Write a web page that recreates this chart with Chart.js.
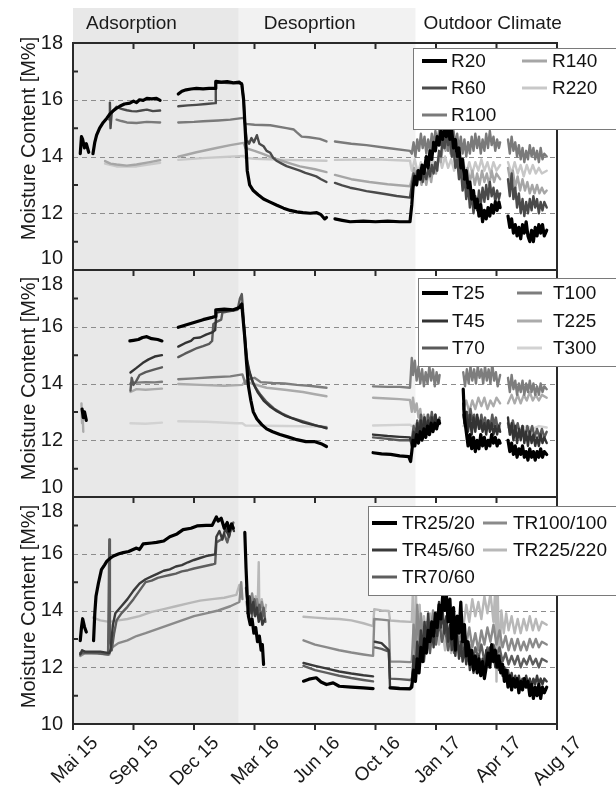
<!DOCTYPE html>
<html>
<head>
<meta charset="utf-8">
<script src="https://cdn.jsdelivr.net/npm/chart.js@4"></script>
<style>
  body { margin: 0; background: #fff; }
  #wrap { width: 616px; height: 796px; }
</style>
</head>
<body>
<div id="wrap"><canvas id="moistureChart" width="616" height="796"></canvas></div>
<script>
// x is measured in tick units: 0 = "Mai 15", 8 = "Aug 17"
const xLabels = ['Mai 15', 'Sep 15', 'Dec 15', 'Mar 16', 'Jun 16', 'Oct 16', 'Jan 17', 'Apr 17', 'Aug 17'];
const phaseNames = ['Adsorption', 'Desoprtion', 'Outdoor Climate'];
const phaseBounds = [0, 2.74, 5.66, 8];
const gridValues = [12, 14, 16];
const yTicks = [10, 12, 14, 16, 18];
const yTitle = 'Moisture Content [M%]';

// panel 1: R series
const R20 = [[0.12,14.1],[0.14,14.7],[0.16,14.6],[0.19,14.3],[0.22,14.45],[0.26,14.15],[0.28,null],
  [0.33,14.1],[0.36,14.5],[0.39,14.75],[0.44,15.0],[0.5,15.2],[0.56,15.35],[0.61,15.5],[0.66,15.6],[0.72,15.7],[0.78,15.78],[0.85,15.85],[0.94,15.88],[1.0,15.95],[1.05,15.9],[1.1,16.0],[1.16,15.98],[1.22,16.05],[1.3,16.03],[1.38,16.05],[1.44,15.98],[1.5,null],
  [1.74,16.2],[1.8,16.3],[1.87,16.35],[1.95,16.38],[2.04,16.4],[2.15,16.38],[2.25,16.4],[2.35,16.4],[2.36,16.65],[2.45,16.62],[2.55,16.64],[2.65,16.6],[2.75,16.62],[2.79,16.55],[2.82,16.0],[2.85,14.8],[2.88,13.5],[2.92,13.0],[2.98,12.8],[3.06,12.65],[3.15,12.5],[3.25,12.4],[3.37,12.28],[3.48,12.18],[3.59,12.1],[3.7,12.05],[3.8,12.02],[3.92,12.0],[4.03,12.02],[4.1,11.95],[4.16,11.8],[4.19,11.85],[4.25,null],
  [4.33,11.8],[4.45,11.75],[4.58,11.7],[4.8,11.72],[5.0,11.7],[5.2,11.72],[5.4,11.7],[5.57,11.7],[5.6,12.3],[5.62,12.9],
  [5.65,13.3],[5.68,13.0],[5.71,13.5],[5.74,13.2],[5.77,13.7],[5.8,13.4],[5.84,14.0],[5.87,13.6],[5.9,14.2],[5.93,13.9],[5.96,14.5],[5.99,14.2],[6.02,14.7],[6.05,14.4],[6.08,14.9],[6.11,14.6],[6.14,15.0],[6.17,14.7],[6.2,15.1],[6.23,14.6],[6.26,14.9],[6.29,14.3],[6.32,14.6],[6.35,14.0],[6.38,14.3],[6.41,13.6],[6.44,13.9],[6.47,13.2],[6.5,13.5],[6.53,12.9],[6.56,13.1],[6.59,12.5],[6.62,12.8],[6.65,12.2],[6.68,12.5],[6.71,11.9],[6.74,12.3],[6.77,11.7],[6.8,12.1],[6.83,11.8],[6.86,12.2],[6.89,11.9],[6.92,12.3],[6.95,12.0],[6.98,12.4],[7.01,12.1],[7.04,12.4],[7.06,12.2],[7.12,null],
  [7.19,11.9],[7.22,11.5],[7.25,11.8],[7.28,11.3],[7.31,11.6],[7.34,11.2],[7.37,11.5],[7.4,11.1],[7.43,11.6],[7.46,11.3],[7.49,11.7],[7.52,11.2],[7.55,11.0],[7.58,11.4],[7.61,11.0],[7.64,11.5],[7.67,11.2],[7.7,11.6],[7.73,11.3],[7.76,11.6],[7.79,11.2],[7.83,11.4]];
const R60 = [[0.6,15.3],[0.61,15.9],[0.62,15.0],[0.64,15.55],[0.72,15.75],[0.8,15.68],[0.89,15.63],[0.97,15.6],[1.05,15.59],[1.13,15.62],[1.22,15.65],[1.32,15.6],[1.44,15.62],[1.5,null],
  [1.74,15.77],[1.9,15.8],[2.04,15.82],[2.2,15.85],[2.35,15.88],[2.36,16.6],[2.5,16.6],[2.65,16.58],[2.79,16.58],[2.82,16.0],[2.84,15.2],[2.87,14.6],[2.91,14.45],[2.95,14.65],[2.99,14.5],[3.04,14.75],[3.08,14.45],[3.15,14.36],[3.2,14.2],[3.26,14.13],[3.31,13.95],[3.37,13.84],[3.45,13.75],[3.53,13.66],[3.64,13.58],[3.75,13.5],[3.84,13.42],[3.92,13.37],[4.02,13.3],[4.1,13.2],[4.19,13.1],[4.25,null],
  [4.33,13.07],[4.45,12.98],[4.58,12.9],[4.72,12.84],[4.85,12.78],[5.0,12.73],[5.18,12.67],[5.35,12.61],[5.57,12.55],[5.6,13.0],
  [5.63,13.4],[5.66,13.1],[5.69,13.5],[5.72,13.2],[5.75,13.6],[5.78,13.1],[5.81,13.5],[5.84,13.2],[5.87,13.6],[5.9,13.3],[5.93,13.7],[5.96,13.4],[5.99,13.8],[6.02,13.5],[6.05,14.2],[6.08,14.0],[6.11,14.6],[6.14,14.3],[6.17,14.8],[6.2,14.4],[6.23,14.7],[6.26,14.0],[6.29,14.3],[6.32,13.6],[6.35,13.9],[6.38,13.2],[6.41,13.6],[6.44,12.8],[6.47,13.3],[6.5,12.5],[6.53,13.0],[6.56,12.2],[6.59,12.7],[6.62,12.0],[6.65,12.6],[6.68,12.1],[6.71,12.8],[6.74,12.3],[6.77,12.9],[6.8,12.4],[6.83,13.0],[6.86,12.5],[6.89,13.1],[6.92,12.6],[6.95,12.9],[6.98,12.4],[7.01,12.8],[7.04,12.5],[7.06,12.7],[7.12,null],
  [7.19,13.2],[7.22,12.6],[7.25,13.4],[7.28,12.5],[7.31,12.9],[7.34,12.2],[7.37,12.7],[7.4,12.0],[7.43,12.5],[7.46,11.9],[7.49,12.4],[7.52,12.0],[7.55,12.5],[7.58,12.1],[7.61,12.6],[7.64,12.2],[7.67,12.5],[7.7,12.0],[7.73,12.4],[7.76,12.1],[7.79,12.4],[7.83,12.2]];
const R100 = [[0.72,15.3],[0.8,15.25],[0.89,15.2],[1.05,15.18],[1.22,15.22],[1.44,15.2],[1.5,null],
  [1.74,15.2],[2.0,15.22],[2.15,15.24],[2.4,15.27],[2.6,15.3],[2.82,15.36],[2.85,15.15],[3.0,15.12],[3.26,15.1],[3.53,15.0],[3.65,14.95],[3.7,14.85],[3.78,14.7],[3.9,14.68],[4.08,14.62],[4.19,14.53],[4.25,null],
  [4.33,14.53],[4.6,14.45],[4.85,14.4],[5.2,14.3],[5.57,14.2],
  [5.6,14.1],[5.63,14.5],[5.66,14.0],[5.69,14.6],[5.72,14.2],[5.75,14.8],[5.78,14.3],[5.81,14.7],[5.84,14.1],[5.87,14.6],[5.9,14.2],[5.93,14.8],[5.96,14.4],[5.99,14.9],[6.02,14.5],[6.05,14.9],[6.08,14.4],[6.11,14.8],[6.14,14.3],[6.17,14.7],[6.2,14.2],[6.23,14.8],[6.26,14.3],[6.29,14.9],[6.32,14.4],[6.35,14.8],[6.38,14.2],[6.41,14.7],[6.44,14.1],[6.47,14.6],[6.5,14.0],[6.53,14.5],[6.56,14.1],[6.59,14.7],[6.62,14.2],[6.65,14.8],[6.68,14.3],[6.71,14.7],[6.74,14.1],[6.77,14.6],[6.8,14.2],[6.83,14.8],[6.86,14.3],[6.89,14.9],[6.92,14.4],[6.95,14.7],[6.98,14.2],[7.01,14.6],[7.04,14.3],[7.06,14.5],[7.12,null],
  [7.19,14.6],[7.22,14.1],[7.25,14.7],[7.28,14.2],[7.31,14.5],[7.34,14.0],[7.37,14.4],[7.4,13.9],[7.43,14.3],[7.46,13.8],[7.49,14.2],[7.52,13.9],[7.55,14.4],[7.58,14.0],[7.61,14.3],[7.64,13.9],[7.67,14.2],[7.7,13.8],[7.73,14.3],[7.76,13.9],[7.79,14.1],[7.83,14.0]];
const R140 = [[0.53,13.84],[0.62,13.75],[0.72,13.72],[0.89,13.68],[1.05,13.72],[1.27,13.8],[1.44,13.87],[1.5,null],
  [1.74,13.99],[2.04,14.15],[2.37,14.3],[2.6,14.4],[2.82,14.48],[2.85,14.3],[3.0,14.2],[3.15,14.08],[3.3,13.95],[3.45,13.85],[3.6,13.75],[3.75,13.65],[4.0,13.55],[4.19,13.45],[4.25,null],
  [4.33,13.35],[4.6,13.2],[4.9,13.1],[5.2,13.02],[5.57,12.95],
  [5.6,13.2],[5.64,13.6],[5.68,13.1],[5.72,13.5],[5.76,13.0],[5.8,13.4],[5.84,13.0],[5.88,13.5],[5.92,13.1],[5.96,13.7],[6.0,13.4],[6.04,14.0],[6.08,13.8],[6.12,14.5],[6.16,14.2],[6.2,14.6],[6.24,14.1],[6.28,14.4],[6.32,13.7],[6.36,14.0],[6.4,13.4],[6.44,13.8],[6.48,13.2],[6.52,13.6],[6.56,13.1],[6.6,13.5],[6.64,13.0],[6.68,13.4],[6.72,13.0],[6.76,13.5],[6.8,13.1],[6.84,13.4],[6.88,13.0],[6.92,13.5],[6.96,13.1],[7.0,13.4],[7.06,13.2],[7.12,null],
  [7.19,13.6],[7.23,13.1],[7.27,13.5],[7.31,12.9],[7.35,13.3],[7.39,12.8],[7.43,13.2],[7.47,12.8],[7.51,13.1],[7.55,12.7],[7.59,13.0],[7.63,12.7],[7.67,13.0],[7.71,12.7],[7.75,12.9],[7.79,12.7],[7.83,12.8]];
const R220 = [[0.53,13.75],[0.72,13.65],[1.05,13.65],[1.44,13.78],[1.5,null],
  [1.74,13.88],[2.2,13.95],[2.82,14.02],[2.85,13.95],[3.0,13.92],[3.5,13.88],[4.19,13.85],[4.25,null],
  [4.33,13.88],[5.0,13.9],[5.57,13.85],
  [5.6,13.5],[5.65,13.9],[5.7,13.4],[5.75,13.8],[5.8,13.4],[5.85,13.9],[5.9,13.5],[5.95,13.9],[6.0,13.5],[6.05,14.0],[6.1,13.6],[6.15,14.0],[6.2,13.6],[6.25,13.9],[6.3,13.5],[6.35,13.9],[6.4,13.4],[6.45,13.8],[6.5,13.4],[6.55,13.8],[6.6,13.4],[6.65,13.8],[6.7,13.5],[6.75,13.9],[6.8,13.5],[6.85,13.8],[6.9,13.4],[6.95,13.8],[7.0,13.5],[7.06,13.7],[7.12,null],
  [7.19,13.8],[7.25,13.4],[7.3,13.8],[7.35,13.4],[7.4,13.7],[7.45,13.3],[7.5,13.7],[7.55,13.4],[7.6,13.7],[7.65,13.4],[7.7,13.6],[7.75,13.4],[7.83,13.5]];

// panel 2: T series
const T25 = [[0.15,13.1],[0.17,12.8],[0.19,13.0],[0.22,12.7],[0.24,null],
  [0.94,15.5],[1.0,15.52],[1.08,15.55],[1.15,15.62],[1.22,15.65],[1.3,15.58],[1.4,15.55],[1.47,15.5],[1.5,null],
  [1.74,15.98],[1.85,16.05],[2.0,16.15],[2.15,16.25],[2.3,16.33],[2.35,16.36],[2.36,16.6],[2.5,16.62],[2.65,16.6],[2.75,16.68],[2.79,16.8],[2.81,16.3],[2.84,15.6],[2.87,14.7],[2.9,13.9],[2.94,13.4],[2.98,13.0],[3.04,12.75],[3.12,12.55],[3.2,12.4],[3.3,12.3],[3.42,12.2],[3.55,12.12],[3.7,12.02],[3.85,11.95],[4.0,11.95],[4.1,11.88],[4.19,11.78],[4.22,null],
  [4.96,11.56],[5.1,11.52],[5.25,11.5],[5.4,11.45],[5.55,11.42],[5.58,11.25],[5.6,11.6],
  [5.62,12.0],[5.65,11.8],[5.68,12.2],[5.71,11.9],[5.74,12.3],[5.77,12.0],[5.8,12.4],[5.83,12.1],[5.86,12.5],[5.89,12.2],[5.92,12.6],[5.95,12.3],[5.98,12.6],[6.01,12.4],[6.04,12.7],[6.06,12.6],[6.1,null],
  [6.45,13.8],[6.47,12.8],[6.5,12.3],[6.53,11.8],[6.56,12.2],[6.59,11.7],[6.62,12.1],[6.65,11.6],[6.68,12.0],[6.71,11.7],[6.74,12.2],[6.77,11.8],[6.8,12.1],[6.83,11.7],[6.86,12.0],[6.89,11.8],[6.92,12.2],[6.95,11.9],[6.98,12.1],[7.01,11.8],[7.04,12.0],[7.06,11.9],[7.12,null],
  [7.19,12.0],[7.22,11.6],[7.25,11.9],[7.28,11.5],[7.31,11.8],[7.34,11.4],[7.37,11.7],[7.4,11.5],[7.43,11.8],[7.46,11.4],[7.49,11.6],[7.52,11.3],[7.55,11.7],[7.58,11.4],[7.61,11.6],[7.64,11.3],[7.67,11.6],[7.7,11.4],[7.73,11.7],[7.76,11.4],[7.79,11.6],[7.83,11.5]];
const T45 = [[0.95,14.39],[1.05,14.55],[1.15,14.72],[1.25,14.85],[1.35,14.95],[1.47,15.0],[1.5,null],
  [1.74,15.3],[1.85,15.42],[1.95,15.5],[2.0,15.6],[2.1,15.62],[2.2,15.72],[2.3,15.8],[2.35,15.88],[2.37,16.5],[2.5,16.55],[2.65,16.58],[2.79,16.7],[2.82,16.2],[2.85,15.4],[2.88,14.8],[2.92,14.4],[2.98,14.0],[3.05,13.7],[3.15,13.4],[3.25,13.2],[3.37,13.02],[3.5,12.87],[3.65,12.75],[3.8,12.63],[3.95,12.55],[4.1,12.48],[4.19,12.42],[4.22,null],
  [4.96,12.2],[5.2,12.15],[5.4,12.12],[5.57,12.1],
  [5.6,11.8],[5.63,12.3],[5.66,12.0],[5.69,12.6],[5.72,12.1],[5.75,12.7],[5.78,12.2],[5.81,12.8],[5.84,12.3],[5.87,12.7],[5.9,12.2],[5.93,12.8],[5.96,12.4],[5.99,12.9],[6.02,12.5],[6.06,12.7],[6.1,null],
  [6.45,13.3],[6.47,12.6],[6.5,13.0],[6.53,12.3],[6.56,12.9],[6.59,12.2],[6.62,12.8],[6.65,12.3],[6.68,12.9],[6.71,12.4],[6.74,12.7],[6.77,12.3],[6.8,12.6],[6.83,12.2],[6.86,12.7],[6.89,12.3],[6.92,12.6],[6.95,12.2],[6.98,12.5],[7.01,12.2],[7.04,12.5],[7.06,12.3],[7.12,null],
  [7.19,12.8],[7.22,12.2],[7.25,12.6],[7.28,12.0],[7.31,12.5],[7.34,11.9],[7.37,12.4],[7.4,12.0],[7.43,12.5],[7.46,11.9],[7.49,12.3],[7.52,11.8],[7.55,12.3],[7.58,11.9],[7.61,12.2],[7.64,11.8],[7.67,12.1],[7.7,11.8],[7.73,12.2],[7.76,11.9],[7.79,12.1],[7.83,11.9]];
const T70 = [[0.95,13.75],[0.97,14.2],[1.0,13.95],[1.05,14.1],[1.1,14.3],[1.2,14.4],[1.35,14.5],[1.47,14.57],[1.5,null],
  [1.74,14.93],[1.85,15.05],[1.95,15.15],[2.05,15.25],[2.15,15.32],[2.25,15.4],[2.3,15.5],[2.32,16.1],[2.4,16.2],[2.45,16.25],[2.47,16.5],[2.6,16.55],[2.72,16.6],[2.76,17.0],[2.79,17.15],[2.81,16.6],[2.83,15.8],[2.86,15.0],[2.9,14.5],[2.95,14.15],[3.02,13.85],[3.1,13.6],[3.2,13.35],[3.32,13.12],[3.45,12.95],[3.6,12.8],[3.75,12.7],[3.9,12.6],[4.05,12.5],[4.19,12.45],[4.22,null],
  [4.96,12.1],[5.2,12.05],[5.4,12.0],[5.57,12.0],
  [5.6,12.0],[5.63,12.5],[5.66,12.1],[5.69,12.7],[5.72,12.3],[5.75,12.9],[5.78,12.4],[5.81,12.8],[5.84,12.3],[5.87,12.9],[5.9,12.5],[5.93,13.0],[5.96,12.6],[5.99,12.9],[6.02,12.5],[6.06,12.8],[6.1,null],
  [6.45,12.9],[6.48,12.5],[6.51,13.0],[6.54,12.6],[6.57,13.1],[6.6,12.7],[6.63,12.9],[6.66,12.5],[6.69,12.8],[6.72,12.4],[6.75,12.9],[6.78,12.5],[6.81,12.8],[6.84,12.4],[6.87,12.7],[6.9,12.5],[6.93,12.9],[6.96,12.5],[6.99,12.8],[7.02,12.4],[7.06,12.6],[7.12,null],
  [7.19,12.6],[7.23,12.2],[7.27,12.7],[7.31,12.3],[7.35,12.6],[7.39,12.2],[7.43,12.5],[7.47,12.1],[7.51,12.5],[7.55,12.2],[7.59,12.5],[7.63,12.1],[7.67,12.4],[7.71,12.1],[7.75,12.4],[7.79,12.1],[7.83,12.3]];
const T100 = [[0.95,14.0],[1.05,14.03],[1.2,14.05],[1.35,14.04],[1.47,14.06],[1.5,null],
  [1.74,14.15],[2.0,14.18],[2.3,14.22],[2.6,14.25],[2.8,14.32],[2.85,14.0],[2.9,14.15],[3.0,14.2],[3.1,14.05],[3.3,14.02],[3.5,14.0],[3.7,13.95],[3.9,13.92],[4.19,13.85],[4.22,null],
  [4.96,13.9],[5.2,13.88],[5.4,13.88],[5.57,13.85],[5.6,14.9],
  [5.62,14.3],[5.65,14.8],[5.68,14.1],[5.71,14.6],[5.74,14.0],[5.77,14.5],[5.8,13.9],[5.83,14.4],[5.86,14.0],[5.89,14.6],[5.92,14.1],[5.95,14.5],[5.98,13.9],[6.01,14.4],[6.04,14.0],[6.06,14.3],[6.1,null],
  [6.45,14.4],[6.48,13.9],[6.51,14.5],[6.54,14.0],[6.57,14.6],[6.6,14.1],[6.63,14.5],[6.66,14.0],[6.69,14.6],[6.72,14.2],[6.75,14.5],[6.78,14.0],[6.81,14.6],[6.84,14.1],[6.87,14.5],[6.9,14.0],[6.93,14.7],[6.96,14.1],[6.99,14.4],[7.02,13.9],[7.06,14.3],[7.12,null],
  [7.19,14.2],[7.22,13.7],[7.25,14.3],[7.28,13.8],[7.31,14.1],[7.34,13.6],[7.37,14.0],[7.4,13.7],[7.43,14.1],[7.46,13.6],[7.49,14.0],[7.52,13.7],[7.55,14.1],[7.58,13.7],[7.61,14.0],[7.64,13.6],[7.67,13.9],[7.7,13.6],[7.73,14.0],[7.76,13.7],[7.79,13.9],[7.83,13.8]];
const T225 = [[0.14,13.3],[0.15,12.6],[0.16,12.9],[0.17,12.3],[0.18,null],
  [0.95,13.7],[1.05,13.8],[1.2,13.78],[1.35,13.8],[1.47,13.82],[1.5,null],
  [1.74,13.98],[2.1,13.95],[2.5,13.92],[2.8,13.95],[2.85,14.1],[2.95,14.0],[3.2,13.85],[3.5,13.78],[3.8,13.7],[4.0,13.62],[4.19,13.55],[4.22,null],
  [4.96,13.5],[5.2,13.47],[5.4,13.45],[5.57,13.42],[5.6,13.0],
  [5.62,13.5],[5.65,13.0],[5.68,13.3],[5.71,12.8],[5.74,13.1],[5.77,12.6],[5.8,12.9],[5.83,12.5],[5.86,12.9],[5.89,12.5],[5.92,12.8],[5.95,12.4],[5.98,12.8],[6.01,12.5],[6.04,12.7],[6.06,12.6],[6.1,null],
  [6.45,13.1],[6.5,13.4],[6.55,13.0],[6.6,13.4],[6.65,13.1],[6.7,13.5],[6.75,13.2],[6.8,13.5],[6.85,13.1],[6.9,13.4],[6.95,13.2],[7.0,13.5],[7.06,13.3],[7.12,null],
  [7.19,13.3],[7.25,13.6],[7.3,13.3],[7.35,13.6],[7.4,13.3],[7.45,13.6],[7.5,13.4],[7.55,13.7],[7.6,13.4],[7.65,13.6],[7.7,13.4],[7.75,13.6],[7.83,13.5]];
const T300 = [[0.95,12.6],[1.2,12.58],[1.47,12.62],[1.5,null],
  [1.74,12.67],[2.2,12.65],[2.7,12.6],[2.8,12.6],[2.85,12.52],[3.5,12.5],[4.19,12.48],[4.22,null],
  [4.96,12.52],[5.57,12.55],[5.6,12.5],[5.7,12.6],[5.8,12.45],[5.9,12.6],[6.0,12.5],[6.06,12.55],[6.1,null],
  [6.45,12.5],[6.55,12.6],[6.65,12.45],[6.75,12.55],[6.85,12.45],[6.95,12.55],[7.06,12.5],[7.12,null],
  [7.19,12.45],[7.3,12.55],[7.4,12.4],[7.5,12.5],[7.6,12.4],[7.7,12.5],[7.83,12.45]];

// panel 3: TR series
const TR25_20 = [[0.12,12.94],[0.14,13.4],[0.16,13.71],[0.19,13.42],[0.22,13.24],[0.23,null],
  [0.34,12.94],[0.36,13.89],[0.38,14.5],[0.42,14.96],[0.47,15.44],[0.52,15.6],[0.56,15.74],[0.62,15.85],[0.67,15.92],[0.76,16.0],[0.83,16.04],[0.92,16.08],[1.05,16.2],[1.1,16.15],[1.16,16.35],[1.3,16.38],[1.38,16.4],[1.5,16.45],[1.6,16.6],[1.72,16.7],[1.82,16.85],[1.95,16.9],[2.05,16.98],[2.2,17.0],[2.3,17.0],[2.37,17.3],[2.4,17.15],[2.45,17.25],[2.5,16.9],[2.55,17.1],[2.58,16.8],[2.62,17.05],[2.65,16.9],[2.67,null],
  [2.84,16.75],[2.86,15.5],[2.88,14.5],[2.9,13.8],[2.93,13.5],[2.96,13.7],[2.99,13.2],[3.02,13.4],[3.05,12.9],[3.08,13.1],[3.11,12.6],[3.13,12.8],[3.15,12.1],[3.16,null],
  [3.81,11.51],[3.9,11.58],[4.02,11.63],[4.1,11.48],[4.19,11.39],[4.3,11.45],[4.4,11.33],[4.6,11.3],[4.8,11.27],[4.96,11.25],[4.98,null],
  [5.24,11.27],[5.4,11.25],[5.57,11.24],
  [5.6,11.3],[5.63,11.9],[5.66,11.5],[5.69,12.3],[5.72,11.8],[5.75,12.7],[5.78,12.2],[5.81,13.0],[5.84,12.5],[5.87,13.3],[5.9,12.9],[5.93,13.6],[5.96,13.1],[5.99,13.9],[6.02,13.4],[6.05,14.2],[6.08,13.7],[6.11,14.5],[6.14,14.0],[6.17,14.6],[6.2,13.6],[6.23,14.4],[6.26,13.0],[6.29,14.1],[6.32,12.6],[6.35,13.8],[6.38,13.2],[6.41,14.3],[6.44,12.9],[6.47,13.5],[6.5,12.4],[6.53,12.9],[6.56,12.1],[6.59,12.6],[6.62,11.9],[6.65,12.4],[6.68,11.8],[6.71,12.3],[6.74,11.7],[6.77,12.2],[6.8,11.6],[6.83,12.0],[6.86,12.5],[6.89,12.0],[6.92,12.8],[6.95,12.2],[6.98,12.6],[7.01,12.0],[7.04,12.4],[7.07,11.8],[7.1,12.1],[7.13,11.5],[7.16,11.9],[7.19,11.3],[7.22,11.7],[7.25,11.2],[7.28,11.6],[7.31,11.3],[7.34,11.6],[7.37,11.1],[7.4,11.5],[7.43,11.2],[7.46,11.6],[7.49,11.3],[7.52,11.5],[7.55,11.0],[7.58,11.4],[7.61,10.9],[7.64,11.3],[7.67,11.0],[7.7,11.4],[7.73,10.9],[7.76,11.3],[7.79,11.1],[7.83,11.3]];
const TR45_60 = [[0.12,12.45],[0.15,12.6],[0.2,12.55],[0.3,12.55],[0.45,12.55],[0.6,12.5],[0.62,12.6],[0.66,13.5],[0.7,13.9],[0.8,14.15],[0.9,14.4],[1.0,14.7],[1.1,14.95],[1.2,15.1],[1.3,15.2],[1.4,15.3],[1.5,15.4],[1.6,15.45],[1.7,15.55],[1.8,15.6],[1.9,15.7],[2.0,15.78],[2.1,15.85],[2.2,15.92],[2.35,15.98],[2.37,16.6],[2.42,16.8],[2.47,16.5],[2.52,16.9],[2.58,16.6],[2.62,17.0],[2.66,16.8],[2.68,null],
  [2.86,14.8],[2.89,14.2],[2.92,14.5],[2.95,13.9],[2.98,14.3],[3.01,13.8],[3.04,14.1],[3.07,13.6],[3.1,13.9],[3.13,13.5],[3.17,13.7],[3.19,null],
  [3.81,12.15],[4.0,12.05],[4.2,11.95],[4.4,11.85],[4.6,11.78],[4.8,11.72],[4.96,11.68],[4.98,null],
  [4.99,12.9],[5.1,12.85],[5.22,12.6],[5.24,11.3],[5.4,11.27],[5.57,11.25],
  [5.6,11.4],[5.63,12.4],[5.66,11.8],[5.69,12.9],[5.72,12.2],[5.75,13.3],[5.78,12.5],[5.81,13.6],[5.84,12.8],[5.87,13.9],[5.9,13.0],[5.93,13.6],[5.96,12.7],[5.99,13.9],[6.02,13.1],[6.05,14.3],[6.08,13.4],[6.11,14.0],[6.14,13.2],[6.17,13.8],[6.2,12.9],[6.23,13.5],[6.26,12.6],[6.29,13.3],[6.32,12.4],[6.35,13.1],[6.38,12.3],[6.41,12.9],[6.44,12.2],[6.47,12.7],[6.5,12.1],[6.53,12.6],[6.56,11.9],[6.59,12.4],[6.62,11.8],[6.65,12.3],[6.68,11.9],[6.71,12.4],[6.74,11.8],[6.77,12.3],[6.8,11.9],[6.83,12.6],[6.86,12.1],[6.89,12.7],[6.92,12.2],[6.95,12.6],[6.98,12.0],[7.01,12.4],[7.04,11.9],[7.07,12.2],[7.1,11.7],[7.13,12.0],[7.16,11.6],[7.19,11.9],[7.22,11.5],[7.25,11.8],[7.28,11.4],[7.31,11.7],[7.34,11.4],[7.37,11.7],[7.4,11.3],[7.43,11.6],[7.46,11.4],[7.49,11.7],[7.52,11.4],[7.55,11.6],[7.58,11.3],[7.61,11.6],[7.64,11.4],[7.67,11.7],[7.7,11.4],[7.73,11.6],[7.76,11.4],[7.79,11.6],[7.83,11.5]];
const TR70_60 = [[0.12,12.5],[0.2,12.5],[0.4,12.5],[0.58,12.45],[0.6,16.5],[0.61,13.0],[0.64,12.6],[0.68,13.2],[0.72,13.65],[0.8,13.9],[0.9,14.13],[1.0,14.4],[1.1,14.7],[1.2,15.0],[1.3,15.05],[1.4,15.15],[1.5,15.2],[1.6,15.25],[1.7,15.3],[1.8,15.38],[1.9,15.42],[2.0,15.48],[2.15,15.55],[2.3,15.62],[2.35,15.65],[2.37,16.4],[2.45,16.5],[2.5,16.7],[2.55,16.4],[2.6,16.8],[2.65,17.1],[2.67,null],
  [2.88,13.9],[2.92,14.3],[2.96,13.8],[3.0,14.4],[3.04,13.9],[3.08,14.2],[3.12,13.7],[3.15,14.1],[3.18,13.6],[3.19,null],
  [3.81,12.05],[4.0,11.9],[4.2,11.8],[4.4,11.7],[4.6,11.62],[4.8,11.55],[4.96,11.5],[4.98,null],
  [4.99,12.7],[5.1,12.65],[5.22,12.55],[5.24,11.6],[5.4,11.58],[5.57,11.55],
  [5.6,11.6],[5.65,12.3],[5.7,11.9],[5.75,12.8],[5.8,12.2],[5.85,13.2],[5.9,12.5],[5.95,13.5],[6.0,12.8],[6.05,13.6],[6.1,12.9],[6.15,13.4],[6.2,12.6],[6.25,13.2],[6.3,12.5],[6.35,13.0],[6.4,12.4],[6.45,12.9],[6.5,12.3],[6.55,12.8],[6.6,12.2],[6.65,12.7],[6.7,12.3],[6.75,12.8],[6.8,12.2],[6.85,12.7],[6.9,12.3],[6.95,12.8],[7.0,12.4],[7.05,12.7],[7.1,12.2],[7.15,12.5],[7.2,12.1],[7.25,12.4],[7.3,12.1],[7.35,12.4],[7.4,12.0],[7.45,12.3],[7.5,12.1],[7.55,12.4],[7.6,12.1],[7.65,12.3],[7.7,12.0],[7.75,12.3],[7.83,12.2]];
const TR100_100 = [[0.12,12.4],[0.2,12.5],[0.4,12.48],[0.6,12.45],[0.62,12.6],[0.65,12.7],[0.75,12.85],[0.9,12.95],[1.05,13.1],[1.2,13.2],[1.4,13.35],[1.6,13.5],[1.8,13.65],[2.0,13.8],[2.2,13.9],[2.4,14.0],[2.6,14.15],[2.75,14.3],[2.78,15.0],[2.8,14.4],[2.82,null],
  [2.88,14.5],[2.92,14.0],[2.96,14.6],[3.0,14.1],[3.04,14.4],[3.08,13.9],[3.12,14.3],[3.16,13.9],[3.2,null],
  [3.81,12.95],[4.0,12.8],[4.2,12.7],[4.4,12.6],[4.6,12.52],[4.8,12.45],[4.96,12.4],[4.98,13.7],[5.1,13.68],[5.22,13.65],[5.24,12.2],[5.4,12.2],[5.57,12.18],
  [5.6,12.2],[5.63,13.5],[5.66,12.4],[5.69,14.2],[5.72,12.8],[5.75,13.9],[5.8,12.6],[5.85,13.6],[5.9,12.9],[5.95,14.0],[6.0,13.2],[6.05,13.8],[6.1,13.0],[6.15,13.6],[6.2,12.8],[6.25,13.4],[6.3,12.7],[6.35,13.3],[6.4,12.9],[6.45,13.5],[6.5,12.8],[6.55,13.4],[6.6,12.7],[6.65,13.2],[6.7,12.6],[6.75,13.3],[6.8,12.8],[6.85,13.4],[6.9,12.9],[6.95,13.5],[7.0,12.8],[7.05,13.3],[7.1,12.7],[7.15,13.1],[7.2,12.6],[7.25,13.0],[7.3,12.6],[7.35,13.0],[7.4,12.6],[7.45,12.9],[7.5,12.6],[7.55,13.0],[7.6,12.7],[7.65,13.0],[7.7,12.7],[7.75,12.9],[7.83,12.8]];
const TR225_220 = [[0.33,13.75],[0.45,13.65],[0.6,13.6],[0.75,13.65],[0.9,13.7],[1.1,13.8],[1.3,13.95],[1.5,14.05],[1.7,14.15],[1.9,14.25],[2.1,14.35],[2.3,14.4],[2.5,14.45],[2.7,14.55],[2.75,14.9],[2.78,14.6],[2.8,null],
  [2.86,14.3],[2.9,13.9],[2.94,14.4],[2.98,14.0],[3.02,14.5],[3.05,13.9],[3.07,15.7],[3.08,14.0],[3.12,14.4],[3.16,13.8],[3.19,14.2],[3.2,null],
  [3.81,13.78],[4.0,13.75],[4.2,13.72],[4.4,13.7],[4.6,13.65],[4.8,13.55],[4.96,13.45],[4.98,14.05],[5.1,14.0],[5.22,13.98],[5.24,13.65],[5.4,13.62],[5.57,13.6],
  [5.6,13.6],[5.62,14.8],[5.64,11.5],[5.67,14.5],[5.7,12.0],[5.73,14.2],[5.76,12.5],[5.8,13.8],[5.85,13.0],[5.9,13.9],[5.95,13.2],[6.0,13.6],[6.05,12.8],[6.1,13.4],[6.15,12.6],[6.2,13.3],[6.25,12.5],[6.3,13.6],[6.35,12.9],[6.4,13.8],[6.45,13.4],[6.5,14.2],[6.55,13.6],[6.6,14.4],[6.65,13.8],[6.7,14.3],[6.75,13.7],[6.8,14.5],[6.85,13.9],[6.9,14.6],[6.95,13.6],[6.98,14.8],[7.0,11.5],[7.02,14.7],[7.05,12.0],[7.08,14.0],[7.12,13.2],[7.16,13.9],[7.2,13.3],[7.25,13.8],[7.3,13.2],[7.35,13.7],[7.4,13.2],[7.45,13.7],[7.5,13.3],[7.55,13.8],[7.6,13.3],[7.65,13.7],[7.7,13.3],[7.75,13.6],[7.83,13.5]];

const panelAxes = ['yA', 'yB', 'yC'];
const panelLabels = [
  ['R20', 'R60', 'R100', 'R140', 'R220'],
  ['T25', 'T45', 'T70', 'T100', 'T225', 'T300'],
  ['TR25/20', 'TR45/60', 'TR70/60', 'TR100/100', 'TR225/220']
];
const panelSeries = [
  [R20, R60, R100, R140, R220],
  [T25, T45, T70, T100, T225, T300],
  [TR25_20, TR45_60, TR70_60, TR100_100, TR225_220]
];
const panelColors = [
  ['#000000', '#4a4a4a', '#7a7a7a', '#a6a6a6', '#c8c8c8'],
  ['#000000', '#333333', '#5a5a5a', '#7d7d7d', '#ababab', '#d2d2d2'],
  ['#000000', '#3a3a3a', '#5e5e5e', '#8a8a8a', '#b8b8b8']
];

const FONT = '"Liberation Sans", Arial, Helvetica, sans-serif';
const phaseFill = ['#e8e8e8', '#f2f2f2'];

// legend boxes (canvas px), 3 rows per column
const legendLayout = [
  { x: 413, y: 48, w: 210, h: 81, rows: [61, 88, 115], cols: [[422, 447, 451], [522, 547, 552]] },
  { x: 418, y: 278, w: 205, h: 88, rows: [293, 321, 348], cols: [[422, 448, 452], [517, 542, 553]] },
  { x: 368, y: 506, w: 255, h: 89, rows: [523, 550, 577], cols: [[372, 397, 402], [483, 507, 513]] }
];
// y tick labels that sit on a panel seam are drawn shifted by the plugin
const seamLabels = [[[10, -12]], [[18, 14], [10, -10]], [[18, 14]]];
const titleShift = [-18, -5, -4];

const datasets = [];
panelSeries.forEach((list, p) => {
  list.forEach((pts, i) => {
    datasets.push({
      label: panelLabels[p][i],
      data: pts.map(([x, y]) => ({ x, y })),
      yAxisID: panelAxes[p],
      borderColor: panelColors[p][i],
      borderWidth: i === 0 ? 3.2 : 2.4,
      pointRadius: 0,
      tension: 0,
      spanGaps: false,
      borderJoinStyle: 'round',
      borderCapStyle: 'round'
    });
  });
});

function yScale(p) {
  return {
    type: 'linear',
    position: 'left',
    stack: 'panels',
    stackWeight: 1,
    weight: 3 - p,
    min: 10,
    max: 18,
    grid: { display: false, drawTicks: false },
    border: { display: false },
    ticks: {
      stepSize: 2,
      autoSkip: false,
      padding: 10,
      color: '#1a1a1a',
      font: { family: FONT, size: 20 },
      callback: v => seamLabels[p].some(s => s[0] === v) ? '' : String(v)
    },
    afterFit: s => { s.width = 73; }
  };
}

const decoPlugin = {
  id: 'deco',
  beforeDatasetsDraw(chart) {
    const { ctx, chartArea: a, scales } = chart;
    const x = scales.x;
    ctx.save();
    for (let i = 0; i < 2; i++) {
      const x0 = x.getPixelForValue(phaseBounds[i]);
      const x1 = x.getPixelForValue(phaseBounds[i + 1]);
      ctx.fillStyle = phaseFill[i];
      ctx.fillRect(x0, 8, x1 - x0, a.bottom - 8);
    }
    ctx.fillStyle = '#1a1a1a';
    ctx.font = '19px ' + FONT;
    ctx.textBaseline = 'alphabetic';
    ctx.textAlign = 'left';
    const pad = [13, 25, 8];
    phaseNames.forEach((n, i) => ctx.fillText(n, x.getPixelForValue(phaseBounds[i]) + pad[i], 29));

    ctx.strokeStyle = '#8c8c8c';
    ctx.lineWidth = 1.2;
    ctx.setLineDash([5, 4]);
    panelAxes.forEach(id => {
      const s = scales[id];
      gridValues.forEach(v => {
        const y = Math.round(s.getPixelForValue(v)) + 0.5;
        ctx.beginPath(); ctx.moveTo(a.left, y); ctx.lineTo(a.right, y); ctx.stroke();
      });
    });
    ctx.restore();
  },
  afterDatasetsDraw(chart) {
    const { ctx, chartArea: a, scales } = chart;
    const x = scales.x;
    ctx.save();
    ctx.strokeStyle = '#2a2a2a';
    ctx.lineWidth = 2;
    panelAxes.forEach((id, p) => {
      const s = scales[id];
      const top = s.getPixelForValue(18), bot = s.getPixelForValue(10);
      ctx.strokeRect(a.left, top, a.right - a.left, bot - top);
      // minor ticks on odd values, pointing inward
      ctx.beginPath();
      for (let v = 11; v < 18; v += 2) {
        const y = s.getPixelForValue(v);
        ctx.moveTo(a.left, y); ctx.lineTo(a.left + 5, y);
      }
      // x ticks on panel top, pointing down
      for (let t = 1; t < 8; t++) {
        const px = x.getPixelForValue(t);
        ctx.moveTo(px, top); ctx.lineTo(px, top + 6);
      }
      ctx.stroke();
    });
    // outward ticks on bottom axis
    ctx.beginPath();
    for (let t = 0; t <= 8; t++) {
      const px = x.getPixelForValue(t);
      ctx.moveTo(px, a.bottom); ctx.lineTo(px, a.bottom + 6);
    }
    ctx.stroke();

    // seam tick labels and axis titles
    ctx.fillStyle = '#1a1a1a';
    panelAxes.forEach((id, p) => {
      const s = scales[id];
      ctx.font = '20px ' + FONT;
      ctx.textAlign = 'right';
      ctx.textBaseline = 'middle';
      seamLabels[p].forEach(([v, dy]) => ctx.fillText(String(v), a.left - 10, s.getPixelForValue(v) + dy));
      const cy = (s.getPixelForValue(18) + s.getPixelForValue(10)) / 2 + titleShift[p];
      ctx.save();
      ctx.translate(29, cy);
      ctx.rotate(-Math.PI / 2);
      ctx.textAlign = 'center';
      ctx.fillText(yTitle, 0, 0);
      ctx.restore();
    });

    // legends
    legendLayout.forEach((L, p) => {
      ctx.fillStyle = '#fff';
      ctx.fillRect(L.x, L.y, L.w, L.h);
      ctx.strokeStyle = '#7a7a7a';
      ctx.lineWidth = 1;
      ctx.strokeRect(L.x + 0.5, L.y + 0.5, L.w, L.h);
      ctx.font = '19px ' + FONT;
      ctx.textAlign = 'left';
      ctx.textBaseline = 'middle';
      panelLabels[p].forEach((lab, i) => {
        const c = L.cols[Math.floor(i / 3)], y = L.rows[i % 3];
        ctx.strokeStyle = panelColors[p][i];
        ctx.lineWidth = i === 0 ? 4 : 3;
        ctx.beginPath(); ctx.moveTo(c[0], y); ctx.lineTo(c[1], y); ctx.stroke();
        ctx.fillStyle = '#111';
        ctx.fillText(lab, c[2], y + 1);
      });
    });
    ctx.restore();
  }
};

new Chart(document.getElementById('moistureChart').getContext('2d'), {
  type: 'line',
  data: { datasets },
  options: {
    responsive: false,
    animation: false,
    layout: { padding: { left: 0, top: 43, right: 59, bottom: 0 } },
    plugins: { legend: { display: false }, tooltip: { enabled: false } },
    scales: {
      x: {
        type: 'linear',
        position: 'bottom',
        min: 0,
        max: 8,
        grid: { display: false, drawTicks: false },
        border: { display: false },
        ticks: {
          stepSize: 1,
          autoSkip: false,
          minRotation: 45,
          maxRotation: 45,
          labelOffset: 22,
          padding: 8,
          color: '#1a1a1a',
          font: { family: FONT, size: 19 },
          callback: v => xLabels[v] ?? ''
        },
        afterFit: s => { s.height = 72; }
      },
      yC: yScale(2),
      yB: yScale(1),
      yA: yScale(0)
    }
  },
  plugins: [decoPlugin]
});
</script>
</body>
</html>
